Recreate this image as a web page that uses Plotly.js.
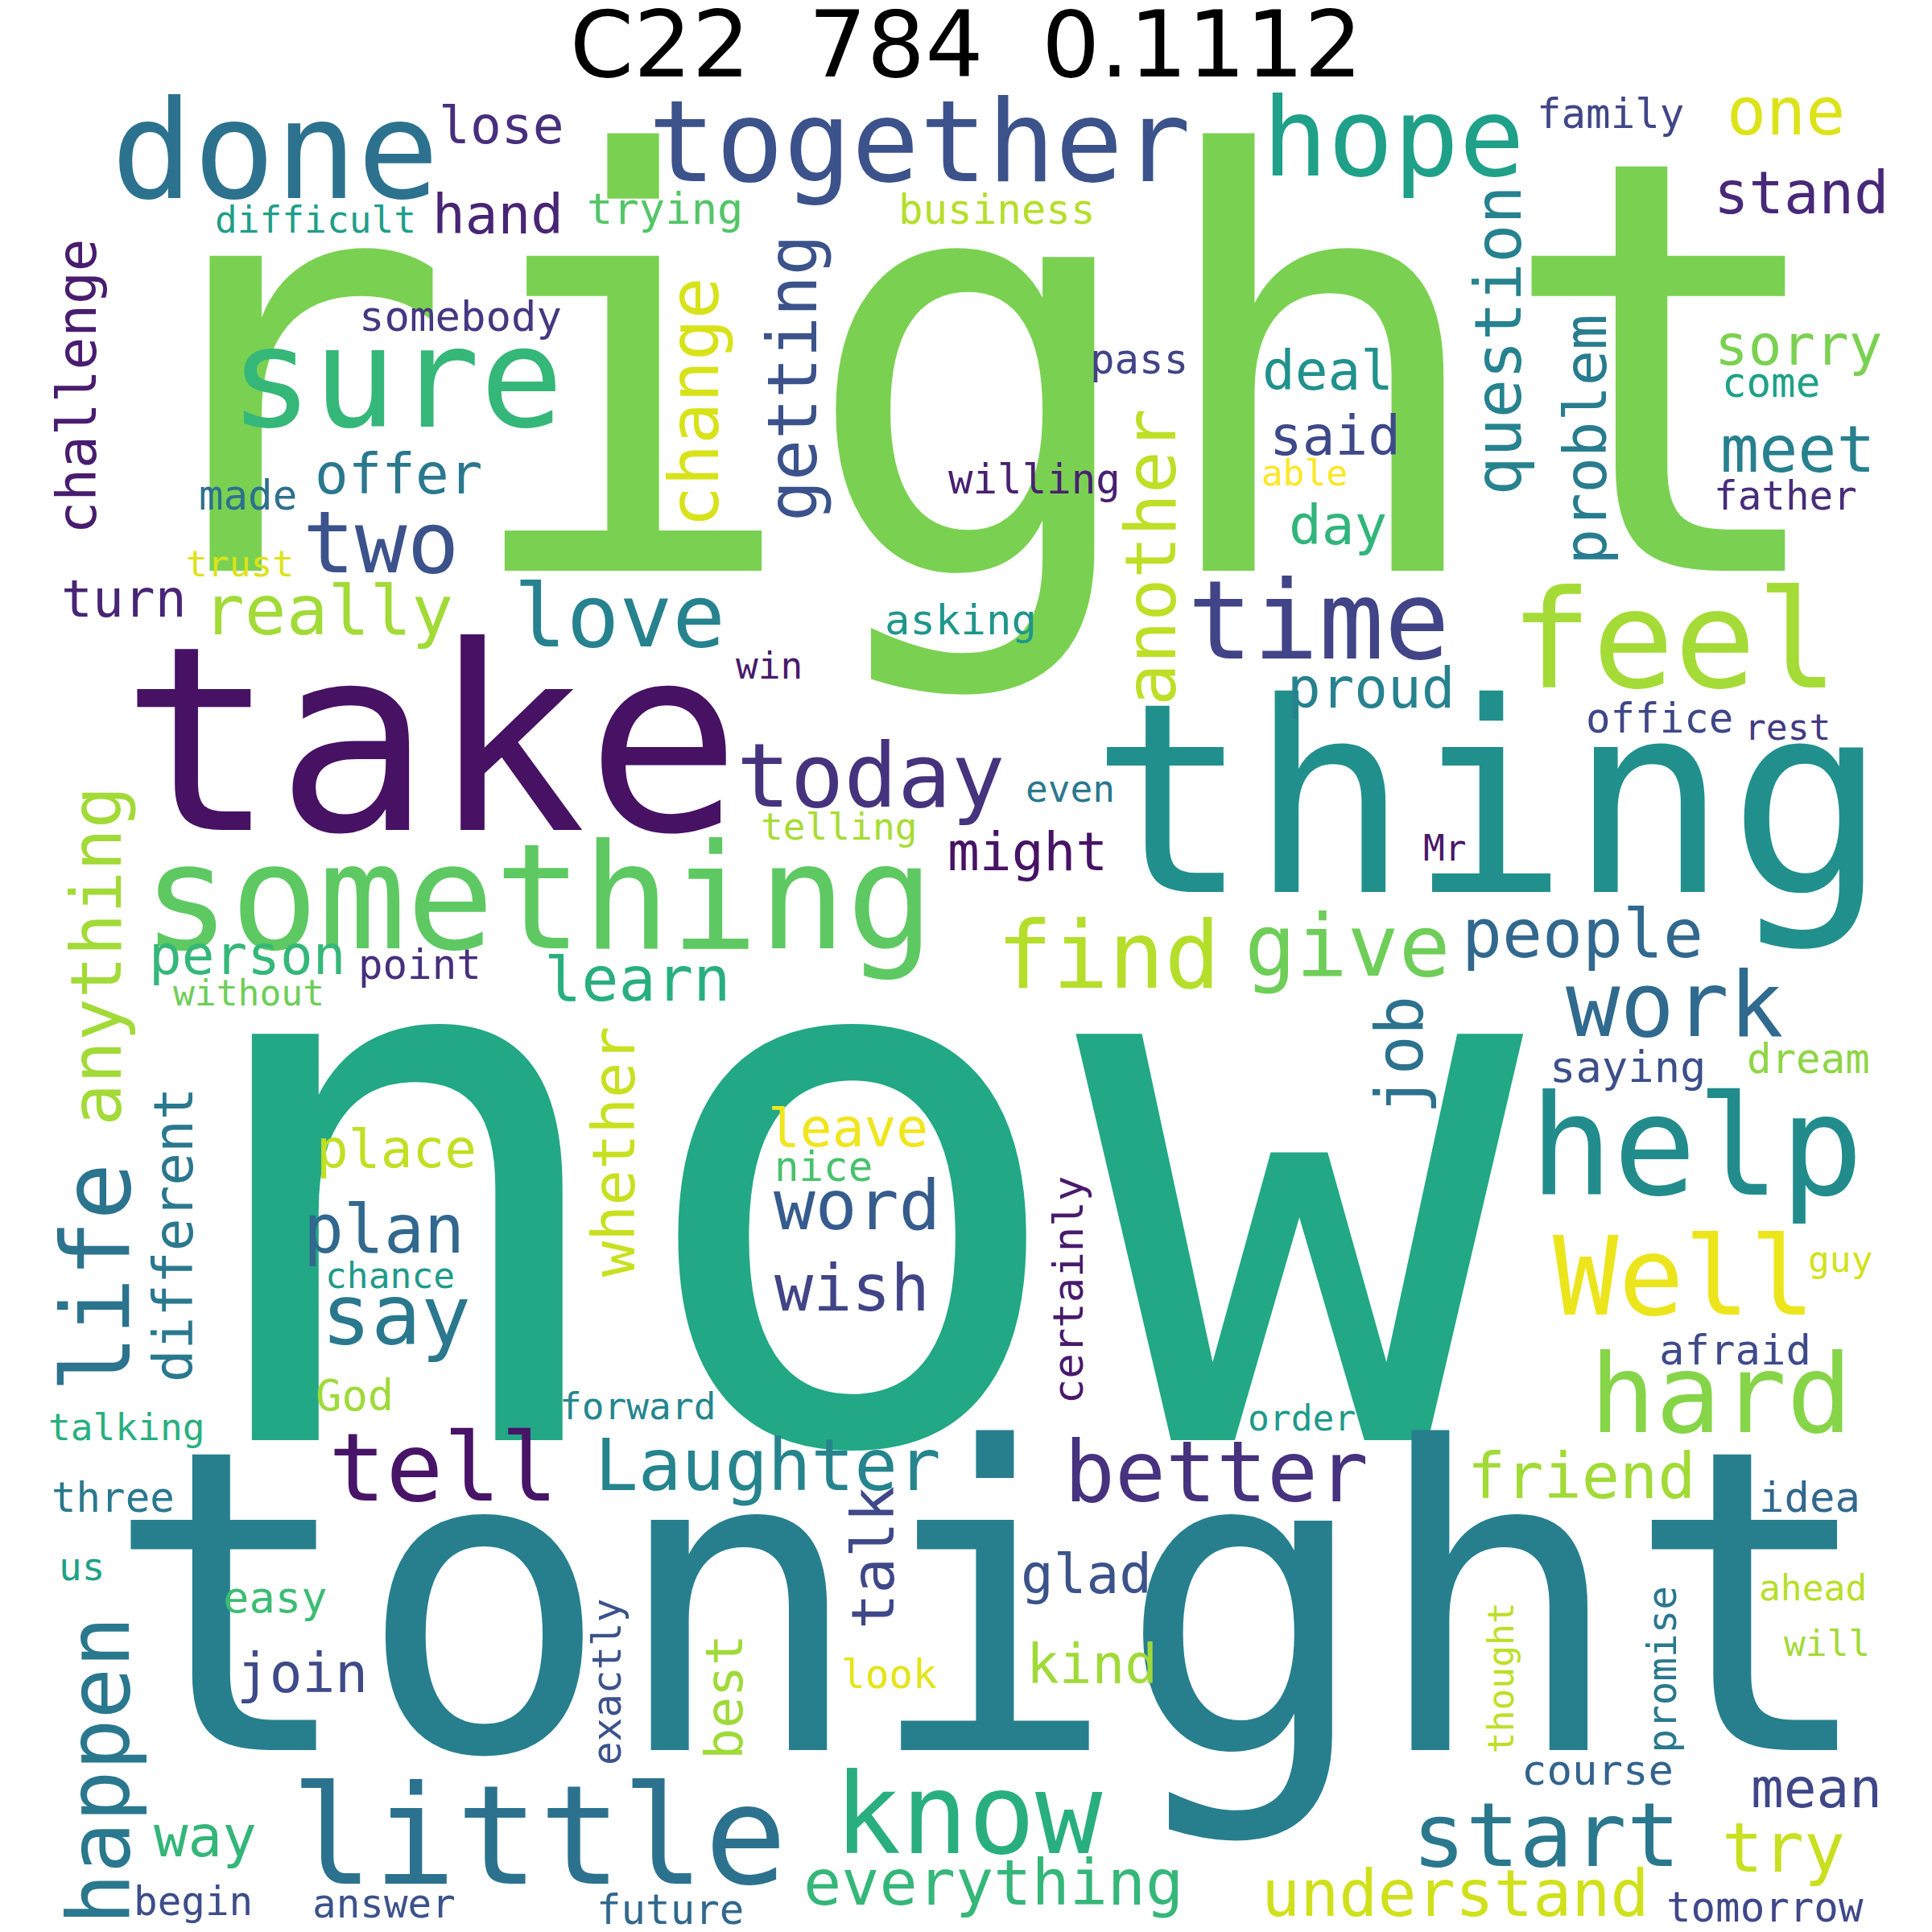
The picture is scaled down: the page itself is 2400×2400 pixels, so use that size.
<!DOCTYPE html>
<html><head><meta charset="utf-8">
<script src="https://cdn.plot.ly/plotly-3.0.1.min.js"></script>
<style>body{margin:0;background:#fff}</style>
</head><body><div id="c" style="width:2400px;height:2400px"></div>
<script>
const titleText = "C22  784  0.1112";
const words = ["right","now","tonight","take","thing","something","done","together","hope","sure","feel","time","help","Well","hard","little","know","tell","better","Laughter","start","understand","everything","today","love","find","give","people","work","two","really","offer","turn","hand","lose","difficult","trying","business","family","one","stand","somebody","pass","deal","said","day","sorry","come","meet","father","able","willing","made","trust","asking","win","proud","office","rest","even","telling","might","Mr","person","point","without","learn","saying","dream","place","leave","nice","word","plan","chance","say","wish","guy","afraid","God","forward","talking","order","friend","three","idea","us","easy","glad","ahead","will","join","look","kind","course","mean","way","try","begin","answer","future","tomorrow","challenge","change","getting","question","another","problem","anything","life","different","whether","job","certainly","talk","happen","exactly","best","thought","promise"];
const sizes = [465,600,340,208,214,118,110,91,88,112,110,88,112,88,88,111,90,77,68,58,72,52,51,72,71,75,69,54,73,70,56,45,42,44,42,30,35,33,33,53,47,34,33,44,44,44,45,33,52,32,29,33,33,29,34,30,45,33,29,30,30,43,29,44,33,29,50,35,33,43,43,33,56,54,29,67,52,29,34,35,30,30,29,51,33,34,31,35,44,29,29,44,32,44,34,44,46,55,32,32,33,33,44,56,55,52,57,48,57,77,44,48,53,34,48,69,32,42,29,32];
const colors = ["#7ad151","#22a884","#277f8e","#471164","#21908d","#5ec962","#2c728e","#3b528b","#1fa088","#35b779","#a5db36","#414487","#228c8d","#ece51b","#86d549","#2c728e","#29af7f","#481467","#46327e","#25848e","#2a788e","#d0e11c","#35b779","#46337e","#26828e","#b5de2b","#6ece58","#31688e","#306a8e","#3b528b","#a2da37","#2a788e","#482576","#482475","#472f7d","#1f9e89","#54c568","#b5de2b","#404688","#dde318","#482878","#453781","#414487","#21918c","#3e4989","#31b57b","#7ad151","#1fa187","#27808e","#472d7b","#fde725","#482071","#2d708e","#dde318","#1f968b","#481a6c","#26828e","#3f4788","#443a83","#2a788e","#a8db34","#471365","#481769","#35b779","#46307e","#6ece58","#29af7f","#3c4f8a","#8ed645","#c2df23","#f1e51d","#4ac16d","#365c8d","#31688e","#1f9a8a","#2a788e","#414487","#d2e21b","#3e4a89","#9fda3a","#24868e","#29af7f","#1f9a8a","#a2da37","#2a788e","#31688e","#1fa187","#3dbc74","#3b528b","#b8de29","#a2da37","#3e4a89","#e5e419","#a0da39","#33638d","#3f4788","#34b679","#c8e020","#3d4d8a","#3b528b","#31688e","#3f4889","#481c6e","#d8e219","#3b528b","#26828e","#bddf26","#287c8e","#a2da37","#2c738e","#2a788e","#c8e020","#2c728e","#481a6c","#3f4889","#2a788e","#3b528b","#a0da39","#bddf26","#2a788e"];

// layout positions (image px, reference 1560 frame) and rotation
const px = [787,690,800,348,1202,435,222,742,1125,320,1352,1065,1370,1360,1390,435,782,358,982,620,1248,1175,802,703,500,895,1088,1278,1352,308,265,322,100,402,405,255,537,805,1300,1442,1455,372,920,1072,1078,1080,1452,1430,1452,1442,1053,835,200,194,776,621,1107,1340,1443,864,677,830,1167,200,339,201,515,1314,1460,320,685,665,692,310,315,320,688,1486,1401,286,515,102,1051,1277,91,1461,66,222,877,1464,1475,244,718,882,1290,1467,166,1440,156,310,541,1425,62,560,640,1210,930,1280,78,78,140,495,1130,862,705,80,490,585,1212,1342];
const py = [300,955,1295,598,646,725,132,123,119,316,527,509,936,1039,1134,1492,1473,1192,1195,1188,1488,1534,1525,633,504,778,770,759,818,444,498,387,487,177,105,180,172,172,95,95,160,258,293,303,356,428,283,312,368,403,385,390,403,458,503,540,560,583,590,640,670,692,688,775,782,805,795,865,858,932,915,945,978,998,1033,1068,1045,1020,1093,1130,1138,1155,1148,1197,1212,1212,1268,1293,1275,1285,1330,1355,1355,1348,1432,1448,1487,1497,1538,1540,1545,1543,312,325,305,275,450,355,772,1032,997,930,852,1042,1258,1430,1358,1370,1355,1348];
const nHoriz = 102;

const S = 2400/1560;
const ann = words.map((w,i)=>({
  x:px[i], y: i>=nHoriz ? py[i] : (i<6 ? py[i] : py[i]-0.09*sizes[i]), xref:'x', yref:'y', text:w, showarrow:false,
  xanchor:'center', yanchor:'middle', textangle: i>=nHoriz ? -90 : 0,
  font:{family:'DejaVu Sans Mono', size:sizes[i]*S, color:colors[i]}
}));

Plotly.newPlot('c',[{x:[0,1560],y:[0,1560],mode:'markers',marker:{opacity:0},hoverinfo:'skip'}],{
  width:2400,height:2400,margin:{l:0,r:0,t:0,b:0},
  paper_bgcolor:'#fff',plot_bgcolor:'#fff',showlegend:false,
  title:{text:titleText,x:0.5,xanchor:'center',y:1-36/1560,yanchor:'middle',font:{family:'DejaVu Sans',size:74*S,color:'#000'}},
  xaxis:{range:[0,1560],visible:false,fixedrange:true},
  yaxis:{range:[1560,0],visible:false,fixedrange:true},
  annotations:ann
},{staticPlot:true});
</script></body></html>
